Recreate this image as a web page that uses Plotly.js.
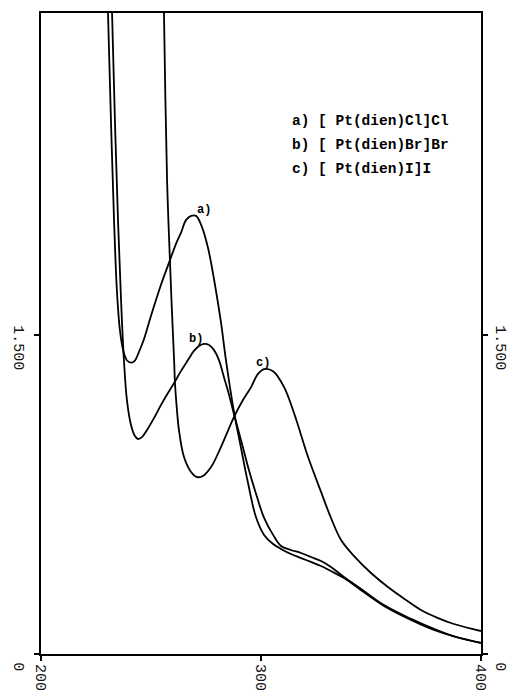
<!DOCTYPE html>
<html>
<head>
<meta charset="utf-8">
<script src="https://cdn.plot.ly/plotly-3.0.1.min.js"></script>
<style>html,body{margin:0;padding:0;background:#fff;}#chart{width:512px;height:691px;}</style>
</head>
<body>
<div id="chart"></div>
<script>
// Wavelength (nm) and absorbance
const wlA = [229.5,230.45,231.8,233.2,234.5,235.9,237.3,239.1,240.9,242.7,244.5,246.8,250.0,254.5,258.2,261.4,263.6,265.9,268.2,270.5,272.7,275.9,279.5,281.8,284.1,287.7,290.9,294.1,297.7,301.4,305.5,309.1,313.6,318.2,322.7,327.3,331.8,337.7,345.5,355.9,368.2,378.6,388.6,400.0];
const absA = [3.30,3.014,2.51,2.04,1.71,1.52,1.43,1.38,1.37,1.38,1.42,1.48,1.59,1.735,1.84,1.93,1.98,2.04,2.06,2.06,2.02,1.91,1.71,1.56,1.38,1.14,0.969,0.804,0.644,0.56,0.517,0.494,0.47,0.451,0.433,0.414,0.39,0.357,0.30,0.226,0.16,0.113,0.08,0.052];

const wlB = [231.4,232.3,233.6,235.0,236.4,237.7,239.1,240.9,242.7,244.1,245.9,248.2,251.4,254.5,257.7,260.5,263.6,266.8,269.5,271.8,274.1,276.4,278.6,280.9,283.2,285.5,287.7,290.9,294.5,298.2,301.4,305.5,309.1,313.6,318.2,322.7,327.3,331.8,337.7,345.5,355.9,368.2,378.6,388.6,400.0];
const absB = [3.30,3.014,2.51,2.04,1.66,1.38,1.19,1.077,1.025,1.011,1.02,1.053,1.11,1.17,1.227,1.274,1.33,1.382,1.425,1.448,1.458,1.453,1.43,1.382,1.30,1.218,1.128,1.006,0.865,0.738,0.64,0.56,0.508,0.489,0.475,0.456,0.437,0.409,0.362,0.306,0.23,0.165,0.118,0.08,0.052];

const wlC = [255.5,255.9,257.3,258.6,259.5,260.5,260.9,261.8,262.7,265.0,268.2,270.9,273.6,277.3,281.8,287.7,291.8,295.5,298.6,301.4,305.5,310.5,315.0,318.2,321.4,327.3,331.8,336.4,342.3,350.0,357.7,365.9,372.7,380.5,387.7,400.0];
const absC = [3.30,3.014,2.23,1.853,1.617,1.382,1.274,1.147,1.053,0.926,0.856,0.832,0.837,0.879,0.973,1.114,1.194,1.255,1.317,1.34,1.33,1.255,1.133,1.03,0.926,0.762,0.64,0.536,0.46,0.381,0.315,0.254,0.207,0.169,0.141,0.108];

const xTickVals = [200, 300, 400];
const xTickText = ["200", "300", "400"];
const yTickVals = [0, 1.5];
const yTickText = ["0", "1.500"];

const legendLines = ["a) [ Pt(dien)Cl]Cl", "b) [ Pt(dien)Br]Br", "c) [ Pt(dien)I]I"];
const curveLabels = ["a)", "b)", "c)"];
const curveLabelX = [270.0, 266.4, 296.8];
const curveLabelY = [2.088, 1.481, 1.368];

const lineStyle = {color: "#000", width: 1.8, shape: "spline", smoothing: 1};
const traces = [
  {x: wlA, y: absA, mode: "lines", line: lineStyle, hoverinfo: "skip", showlegend: false},
  {x: wlB, y: absB, mode: "lines", line: lineStyle, hoverinfo: "skip", showlegend: false},
  {x: wlC, y: absC, mode: "lines", line: lineStyle, hoverinfo: "skip", showlegend: false},
  {x: wlC, y: absC, yaxis: "y2", mode: "lines", opacity: 0, line: {width: 0}, hoverinfo: "skip", showlegend: false}
];

const tickFont = {family: "Liberation Mono", size: 15, color: "#111"};
const yRange = [0, 3.014];

const annotations = [];
legendLines.forEach((t, i) => {
  annotations.push({xref: "paper", yref: "paper", x: 0.566, y: 0.831 - i*0.037, text: t,
    showarrow: false, xanchor: "left", yanchor: "middle",
    font: {family: "Liberation Mono", size: 14.5, color: "#000", weight: "bold"}});
});
curveLabels.forEach((t, i) => {
  annotations.push({xref: "x", yref: "y", x: curveLabelX[i], y: curveLabelY[i], text: t,
    showarrow: false, xanchor: "left", yanchor: "middle",
    font: {family: "Liberation Mono", size: 12, color: "#000", weight: "bold"}});
});

const axisCommon = {showgrid: false, zeroline: false, showline: true, linecolor: "#000", linewidth: 2,
  ticks: "outside", ticklen: 5, tickwidth: 1.5, tickcolor: "#000", tickfont: tickFont, tickangle: 90};

const layout = {
  width: 512, height: 691,
  margin: {l: 41, r: 31, t: 13, b: 37, pad: 0},
  paper_bgcolor: "#fff", plot_bgcolor: "#fff",
  showlegend: false,
  xaxis: Object.assign({range: [200, 400], tickvals: xTickVals, ticktext: xTickText, mirror: true}, axisCommon),
  yaxis: Object.assign({range: yRange, tickvals: yTickVals, ticktext: yTickText, ticklabelshift: 15, ticklabelstandoff: 2}, axisCommon),
  yaxis2: Object.assign({range: yRange, overlaying: "y", side: "right", tickvals: yTickVals, ticktext: yTickText, ticklabelshift: 15, ticklabelstandoff: 2}, axisCommon),
  annotations: annotations
};

Plotly.newPlot("chart", traces, layout, {staticPlot: true, displayModeBar: false});
</script>
</body>
</html>
